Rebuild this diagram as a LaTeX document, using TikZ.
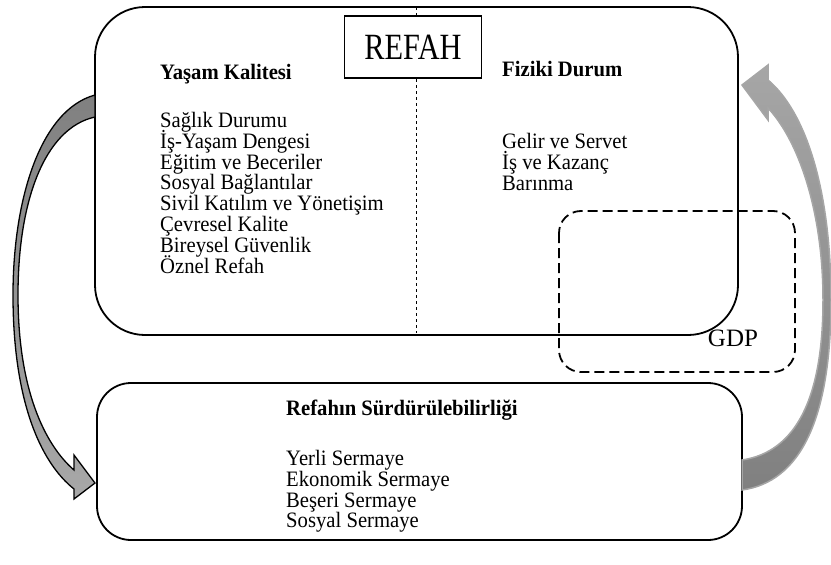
\documentclass[tikz,border=0pt]{standalone}
\usepackage{fontspec}
\setmainfont{Liberation Serif}[FakeStretch=0.94]
\newfontfamily\refahfont{Liberation Serif}[FakeStretch=0.82]
\newfontfamily\gdpfont{Liberation Serif}
\usepackage{tikz}
\definecolor{arrowdark}{HTML}{808080}
\definecolor{arrowmid}{HTML}{A8A8A8}
\definecolor{arrowlight}{HTML}{A6A6A6}
\lineskiplimit=-100pt

\begin{document}
\begin{tikzpicture}[x=1pt, y=-1pt,
  panel/.style={draw, line width=1.8pt},
  head/.style={anchor=north west, inner sep=0pt, font=\fontsize{22}{20.8}\selectfont\bfseries},
  items/.style={anchor=north west, inner sep=0pt, align=left, font=\fontsize{22}{20.8}\selectfont}]

\useasboundingbox (0,0) rectangle (831,565);

%% the two frames
\draw[panel, rounded corners=50pt] (95,7) rectangle (738,335);
\draw[panel, rounded corners=34pt] (97,383) rectangle (742,540);

%% GDP region, dashed
\draw[line width=1.8pt, dash pattern=on 10pt off 5pt, rounded corners=22pt] (559,211) rectangle (795,372);
\node[inner sep=0pt, font=\gdpfont\fontsize{25}{25}\selectfont] (gdp) at (733,338) {GDP};

%% divider between the two columns
\coordinate (divtop) at (416,7);
\coordinate (divbot) at (416,333);
\draw[dashed, line width=0.6pt] (divtop) -- (divbot);

\node[draw, fill=white, line width=1.8pt, minimum width=137pt, minimum height=62pt,
      font=\refahfont\fontsize{37}{37}\selectfont] (refah) at (413,47) {REFAH};

%% quality of life column
\node[head] (yasam) at (160,64) {Yaşam Kalitesi};
\node[items] (yasamlist) at (160,112) {Sağlık Durumu\\ İş-Yaşam Dengesi\\ Eğitim ve Beceriler\\
  Sosyal Bağlantılar\\ Sivil Katılım ve Yönetişim\\ Çevresel Kalite\\ Bireysel Güvenlik\\ Öznel Refah};

%% material conditions column
\node[head] (fiziki) at (502,61) {Fiziki Durum};
\node[items] (fizikilist) at (502,133) {Gelir ve Servet\\ İş ve Kazanç\\ Barınma};

%% sustainability
\node[head] (surdur) at (286,400) {Refahın Sürdürülebilirliği};
\node[items] (surdurlist) at (286,450) {Yerli Sermaye\\ Ekonomik Sermaye\\ Beşeri Sermaye\\ Sosyal Sermaye};

%% curved arrow on the left, top frame to bottom frame
\shadedraw[top color=arrowdark, bottom color=arrowmid, draw=black, line width=1.3pt, line join=miter]
  (95,95) .. controls (40,110) and (13,200) .. (13,295)
  .. controls (13,400) and (40,462) .. (74,489)
  -- (74,499) -- (95,483) -- (74,455) -- (74,470)
  .. controls (45,445) and (18,390) .. (18,295)
  .. controls (18,200) and (45,128) .. (95,117) -- cycle;

%% curved arrow on the right, bottom frame back to top frame
\shadedraw[top color=arrowlight, middle color=arrowlight, bottom color=arrowdark, draw=arrowlight, line width=1.5pt]
  (742,490) .. controls (800,482) and (831,420) .. (831,300)
  .. controls (831,190) and (806,112) .. (768,80)
  -- (768,65) -- (742,85) -- (768,120) -- (768,108)
  .. controls (798,140) and (823,210) .. (823,300)
  .. controls (823,400) and (795,452) .. (742,460) -- cycle;

\end{tikzpicture}
\end{document}
